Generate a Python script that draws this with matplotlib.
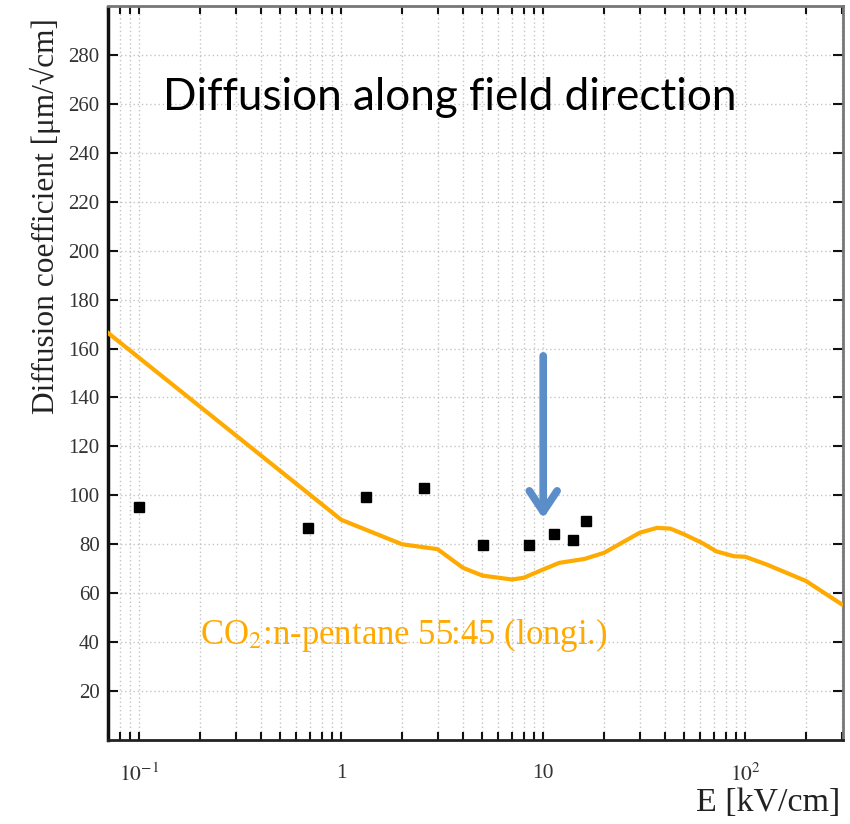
import matplotlib
matplotlib.use("Agg")
import matplotlib.pyplot as plt
from matplotlib.ticker import FixedLocator, FixedFormatter, LogLocator, NullFormatter

plt.rcParams['mathtext.fontset'] = 'stix'

# Simulated longitudinal diffusion, CO2:n-pentane 55:45
E_line = [0.07, 1, 2, 3, 4, 5, 7, 8, 10, 12, 16, 20, 30, 36.6, 42.6, 50, 61, 72, 88, 100, 128, 200, 300]
D_line = [166.4, 90, 80, 78, 70.4, 67.2, 65.6, 66.3, 69.7, 72.4, 74, 76.5, 84.7, 86.7, 86.4, 84, 80.6,
          77.1, 75.1, 74.9, 71.7, 65, 55.5]

# Measured points
E_pts = [0.1, 0.687, 1.32, 2.58, 5.05, 8.55, 11.3, 14.1, 16.2]
D_pts = [95.4, 86.8, 99.5, 103.1, 79.5, 79.5, 84, 81.9, 89.6]

x_ticks = [0.1, 1, 10, 100]
x_ticklabels = ['$10^{-1}$', '1', '10', '$10^{2}$']
y_ticks = list(range(20, 281, 20))

fig = plt.figure(figsize=(8.5, 8.24), dpi=100)
ax = fig.add_axes([108/850, 1-740/824, (843-108)/850, (740-6)/824])

ax.set_xscale('log')
ax.set_xlim(0.07, 305)
ax.set_ylim(0, 300)

serif = 'Liberation Serif'

ax.xaxis.set_major_locator(FixedLocator(x_ticks))
ax.xaxis.set_major_formatter(FixedFormatter(x_ticklabels))
ax.xaxis.set_minor_locator(LogLocator(base=10, subs=range(2, 10)))
ax.xaxis.set_minor_formatter(NullFormatter())
ax.yaxis.set_major_locator(FixedLocator(y_ticks))

ax.grid(True, which='both', axis='x', color='#C4C4C4', linestyle=(0, (1, 2)), linewidth=1)
ax.grid(True, which='major', axis='y', color='#C4C4C4', linestyle=(0, (1, 2)), linewidth=1)
ax.set_axisbelow(True)

ax.tick_params(axis='both', which='both', direction='in', top=True, right=True, color='#111111')
ax.tick_params(axis='x', which='major', length=6, width=1.5, pad=17, labelsize=15.5, labelcolor='#333333')
ax.tick_params(axis='x', which='minor', length=6, width=1.5)
ax.tick_params(axis='y', which='major', length=7, width=1.5, pad=6, labelsize=15, labelcolor='#333333')
for lab in ax.get_xticklabels() + ax.get_yticklabels():
    lab.set_fontfamily(serif)

for side in ['top', 'right']:
    ax.spines[side].set_color('#777777')
    ax.spines[side].set_linewidth(2)
ax.spines['bottom'].set_color('#222222')
ax.spines['bottom'].set_linewidth(2)
ax.spines['left'].set_color('#111111')
ax.spines['left'].set_linewidth(2.5)
ax.spines['left'].set_linestyle((0, (1, 1)))

ax.plot(E_line, D_line, color='#FFAA00', linewidth=3, solid_joinstyle='round', zorder=3)
ax.plot(E_pts, D_pts, linestyle='none', marker='s', markersize=7, color='black', zorder=4)

ax.annotate('', xy=(10, 90.5), xytext=(10, 157),
            arrowprops=dict(arrowstyle='->,head_length=0.75,head_width=0.5', mutation_scale=20,
                            lw=5.5, color='#5B8DC8', shrinkA=0, shrinkB=0), zorder=5)

ax.text(0.2, 43, 'CO$_2$:n-pentane 55:45 (longi.)', color='#FFAA00', fontsize=25,
        fontfamily=serif, va='center', ha='left', zorder=5)

fig.text(163/850, 1-98/824, 'Diffusion along field direction', fontsize=31.7,
         fontfamily='Lato', color='black', ha='left', va='center')

fig.text(45/850, 1-18/824, 'Diffusion coefficient [μm/√cm]', rotation=90, fontsize=22.6,
         fontfamily=serif, color='#222222', ha='center', va='top')
fig.text(840/850, 1-803/824, 'E [kV/cm]', fontsize=24.5, fontfamily=serif, color='#222222',
         ha='right', va='center')

fig.savefig('out.png', dpi=100)
